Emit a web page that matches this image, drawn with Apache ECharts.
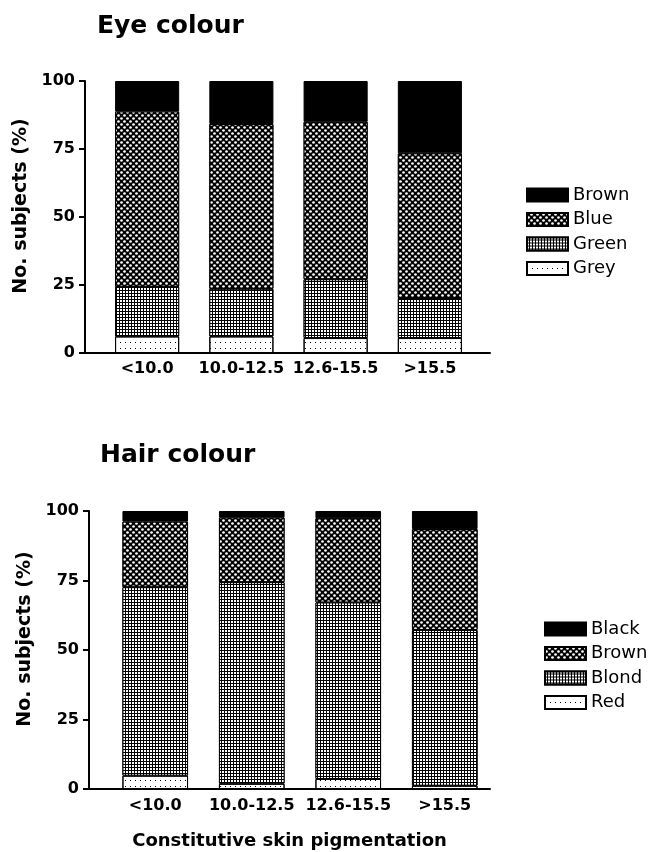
<!DOCTYPE html>
<html><head><meta charset="utf-8">
<script src="https://cdn.jsdelivr.net/npm/echarts@6/dist/echarts.min.js"></script>
<style>html,body{margin:0;padding:0;background:#fff}#c{width:650px;height:852px}</style>
</head><body><div id="c"></div>
<script>
var categories = ['<10.0', '10.0-12.5', '12.6-15.5', '>15.5'];
var yTicks = [0, 25, 50, 75, 100];
// Eye colour (% of subjects)
var eyeGrey  = [6.1, 6.1, 5.5, 5.5];
var eyeGreen = [18.2, 17.5, 21.6, 14.7];
var eyeBlue  = [64.5, 60.6, 57.9, 53.2];
var eyeBrown = [11.2, 15.8, 15.0, 26.6];
// Hair colour (% of subjects)
var hairRed   = [4.8, 1.9, 3.6, 1.2];
var hairBlond = [67.8, 72.5, 63.5, 56.0];
var hairBrown = [23.6, 23.3, 30.3, 36.3];
var hairBlack = [3.8, 2.3, 2.6, 6.5];

var FONT = '"DejaVu Sans", Arial, sans-serif';
var solid = {color: '#000'};
var dots = {color: '#000', decal: {symbol: 'circle', symbolSize: 0.9, color: '#fff', dashArrayX: [[3, 3], [0, 3, 3, 0]], dashArrayY: [3, 0]}};
var grid = {color: '#000', decal: {symbol: 'rect', symbolSize: 1, color: '#fff', dashArrayX: [2, 1], dashArrayY: [2, 1]}};
var sparse = {color: '#fff', decal: {symbol: 'rect', symbolSize: 1, color: '#000', dashArrayX: [1, 4], dashArrayY: [1, 5]}};

function sty(s) {
  var o = {borderColor: '#000', borderWidth: 1, color: s.color};
  if (s.decal) o.decal = s.decal;
  return o;
}
function bar(name, data, axis, s) {
  return {type: 'bar', name: name, data: data, stack: 'st' + axis, xAxisIndex: axis, yAxisIndex: axis,
    barWidth: '68%', itemStyle: sty(s), emphasis: {disabled: true}, animation: false};
}
function valueAxis(gi, show, nameTxt) {
  return {type: 'value', gridIndex: gi, min: 0, max: 100, interval: 25, show: show,
    name: nameTxt || '', nameLocation: 'middle', nameGap: 50, nameRotate: 90,
    nameTextStyle: {fontFamily: FONT, fontWeight: 'bold', fontSize: 19, color: '#000', padding: [0, 0, 0, 22]},
    axisLine: {show: true, lineStyle: {color: '#000', width: 2}},
    axisTick: {show: true, length: 6, lineStyle: {color: '#000', width: 2}},
    axisLabel: {fontFamily: FONT, fontWeight: 'bold', fontSize: 16, color: '#000', margin: 10,
      formatter: function (v) { return yTicks.indexOf(v) >= 0 ? String(v) : ''; }},
    splitLine: {show: false}};
}
function catAxis(gi, showLabels, nameTxt, margin) {
  return {type: 'category', gridIndex: gi, data: categories,
    name: nameTxt || '', nameLocation: 'middle', nameGap: 43,
    nameTextStyle: {fontFamily: FONT, fontWeight: 'bold', fontSize: 18, color: '#000'},
    axisLine: {show: !showLabels, lineStyle: {color: '#000', width: 2}},
    axisTick: {show: false},
    axisLabel: {show: showLabels, fontFamily: FONT, fontWeight: 'bold', fontSize: 16, color: '#000', margin: margin || 8, interval: 0}};
}

var chart = echarts.init(document.getElementById('c'), null, {renderer: 'canvas'});
chart.setOption({
  backgroundColor: '#fff',
  animation: false,
  title: [
    {text: 'Eye colour', left: 92, top: 9, textStyle: {fontFamily: FONT, fontWeight: 'bold', fontSize: 25, color: '#000'}},
    {text: 'Hair colour', left: 95, top: 438, textStyle: {fontFamily: FONT, fontWeight: 'bold', fontSize: 25, color: '#000'}}
  ],
  grid: [
    {left: 100, width: 377, top: 81, height: 272},
    {left: 85, width: 405, top: 81, height: 272},
    {left: 107, width: 386, top: 511, height: 278},
    {left: 89, width: 401, top: 511, height: 278}
  ],
  xAxis: [catAxis(0, true, '', 8), catAxis(1, false), catAxis(2, true, '', 9), catAxis(3, false, 'Constitutive skin pigmentation')],
  yAxis: [valueAxis(0, false), valueAxis(1, true, 'No. subjects (%)'), valueAxis(2, false), valueAxis(3, true, 'No. subjects (%)')],
  legend: [
    {orient: 'vertical', left: 521, top: 181, itemWidth: 41, itemHeight: 13, itemGap: 6.5, icon: 'rect', selectedMode: false,
      data: ['Eye Brown', 'Eye Blue', 'Eye Green', 'Eye Grey'],
      formatter: function (n) { return n.replace(/^Eye /, ''); },
      textStyle: {fontFamily: FONT, fontSize: 18, color: '#000'}},
    {orient: 'vertical', left: 539, top: 615, itemWidth: 41, itemHeight: 13, itemGap: 6.5, icon: 'rect', selectedMode: false,
      data: ['Hair Black', 'Hair Brown', 'Hair Blond', 'Hair Red'],
      formatter: function (n) { return n.replace(/^Hair /, ''); },
      textStyle: {fontFamily: FONT, fontSize: 18, color: '#000'}}
  ],
  series: [
    bar('Eye Grey', eyeGrey, 0, sparse),
    bar('Eye Green', eyeGreen, 0, grid),
    bar('Eye Blue', eyeBlue, 0, dots),
    bar('Eye Brown', eyeBrown, 0, solid),
    bar('Hair Red', hairRed, 2, sparse),
    bar('Hair Blond', hairBlond, 2, grid),
    bar('Hair Brown', hairBrown, 2, dots),
    bar('Hair Black', hairBlack, 2, solid)
  ]
});
</script></body></html>
